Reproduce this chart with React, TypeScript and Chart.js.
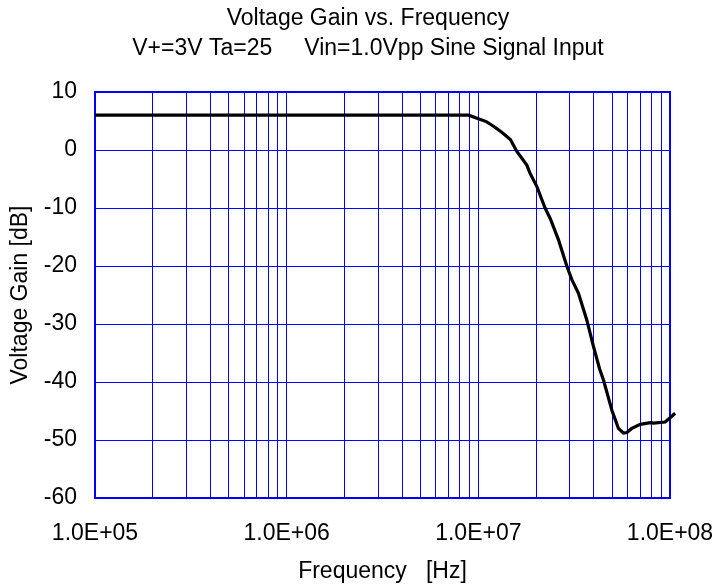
import React, { useEffect, useRef } from "react";
import { Chart, registerables } from "chart.js";

Chart.register(...registerables);

const TITLE_LINES = ["Voltage Gain vs. Frequency", "V+=3V Ta=25     Vin=1.0Vpp Sine Signal Input"];
const X_TITLE = "Frequency   [Hz]";
const Y_TITLE = "Voltage Gain [dB]";

const FREQ_HZ = [
  1e5, 1e6, 5e6, 8.9e6, 1.0e7, 1.1e7, 1.2e7, 1.32e7, 1.47e7, 1.585e7, 1.79e7, 1.86e7, 2.02e7,
  2.23e7, 2.37e7, 2.62e7, 2.9e7, 3.08e7, 3.33e7, 3.68e7, 3.99e7, 4.29e7, 4.5e7, 4.98e7, 5.38e7,
  5.71e7, 5.96e7, 6.32e7, 7.0e7, 7.89e7, 8.2e7, 9.44e7, 1.064e8,
];
const GAIN_DB = [
  6, 6, 6, 6, 5.4, 4.9, 4.1, 3.1, 1.8, -0.2, -2.6, -4.0, -6.3,
  -10.0, -11.8, -15.5, -20.1, -22.4, -24.7, -29.3, -33.9, -37.7, -39.7, -44.9, -48.0,
  -48.8, -48.7, -48.0, -47.3, -47.0, -47.1, -46.9, -45.4,
];

const X_DECADES = [1e5, 1e6, 1e7, 1e8];
const X_DECADE_LABELS = ["1.0E+05", "1.0E+06", "1.0E+07", "1.0E+08"];
const X_MULTIPLIERS = [1, 2, 3, 4, 5, 6, 7, 8, 9];
const Y_MIN = -60;
const Y_MAX = 10;
const Y_STEP = 10;

const FONT = "'Liberation Sans', Arial, sans-serif";

export default function App() {
  const canvasRef = useRef<HTMLCanvasElement | null>(null);

  useEffect(() => {
    if (!canvasRef.current) return;

    const tickValues: number[] = [];
    X_DECADES.forEach((d, i) => {
      if (i === X_DECADES.length - 1) {
        tickValues.push(d);
      } else {
        X_MULTIPLIERS.forEach((m) => tickValues.push(d * m));
      }
    });

    const titlePlugin = {
      id: "twoLineTitle",
      afterDraw(chart: any) {
        const ctx = chart.ctx;
        ctx.save();
        ctx.fillStyle = "#000";
        ctx.font = `23px ${FONT}`;
        ctx.textAlign = "center";
        ctx.textBaseline = "middle";
        TITLE_LINES.forEach((t, i) => ctx.fillText(t, 368, 19 + i * 30));
        ctx.restore();
      },
    };

    const borderPlugin = {
      id: "plotBorder",
      beforeDatasetsDraw(chart: any) {
        const { ctx, chartArea } = chart;
        ctx.save();
        ctx.strokeStyle = "#0000ff";
        ctx.lineWidth = 2;
        ctx.strokeRect(
          Math.round(chartArea.left),
          Math.round(chartArea.top),
          Math.round(chartArea.right) - Math.round(chartArea.left),
          Math.round(chartArea.bottom) - Math.round(chartArea.top)
        );
        ctx.restore();
      },
    };

    const chart = new Chart(canvasRef.current, {
      type: "line",
      data: {
        datasets: [
          {
            data: FREQ_HZ.map((f, i) => ({ x: f, y: GAIN_DB[i] })),
            borderColor: "#000",
            borderWidth: 3.2,
            pointRadius: 0,
            tension: 0,
            fill: false,
            clip: 8,
          } as any,
        ],
      },
      options: {
        animation: false,
        responsive: false,
        layout: { padding: { top: 92, left: 0, right: 0, bottom: 0 } },
        plugins: {
          legend: { display: false },
          title: { display: false },
          tooltip: { enabled: false },
        },
        scales: {
          x: {
            type: "logarithmic",
            min: 1e5,
            max: 1e8,
            afterBuildTicks(scale: any) {
              scale.ticks = tickValues.map((v) => ({ value: v }));
            },
            afterFit(scale: any) {
              scale.height = 90;
              scale.paddingLeft = 0;
              scale.paddingRight = 44;
            },
            grid: {
              color: "#0000ff",
              lineWidth: 1,
              drawTicks: false,
            },
            border: { display: false },
            ticks: {
              autoSkip: false,
              maxRotation: 0,
              minRotation: 0,
              padding: 22,
              color: "#000",
              font: { family: FONT, size: 23 },
              callback: (value: any) => {
                const idx = X_DECADES.findIndex((d) => Math.abs(Number(value) / d - 1) < 1e-9);
                return idx >= 0 ? X_DECADE_LABELS[idx] : "";
              },
            },
            title: {
              display: true,
              text: X_TITLE,
              color: "#000",
              font: { family: FONT, size: 23 },
              padding: { top: 0, bottom: 3 },
            },
          },
          y: {
            min: Y_MIN,
            max: Y_MAX,
            afterFit(scale: any) {
              scale.width = 95;
            },
            grid: {
              color: "#0000ff",
              lineWidth: 1,
              drawTicks: false,
            },
            border: { display: false },
            ticks: {
              stepSize: Y_STEP,
              padding: 18,
              color: "#000",
              font: { family: FONT, size: 23 },
            },
            title: {
              display: true,
              text: Y_TITLE,
              color: "#000",
              font: { family: FONT, size: 23 },
              padding: { top: 7, bottom: 0 },
            },
          },
        },
      },
      plugins: [titlePlugin, borderPlugin],
    });

    return () => chart.destroy();
  }, []);

  return (
    <div style={{ position: "fixed", left: 0, top: 0, width: 714, height: 588, background: "#fff" }}>
      <canvas ref={canvasRef} width={714} height={588} style={{ display: "block" }} />
    </div>
  );
}
